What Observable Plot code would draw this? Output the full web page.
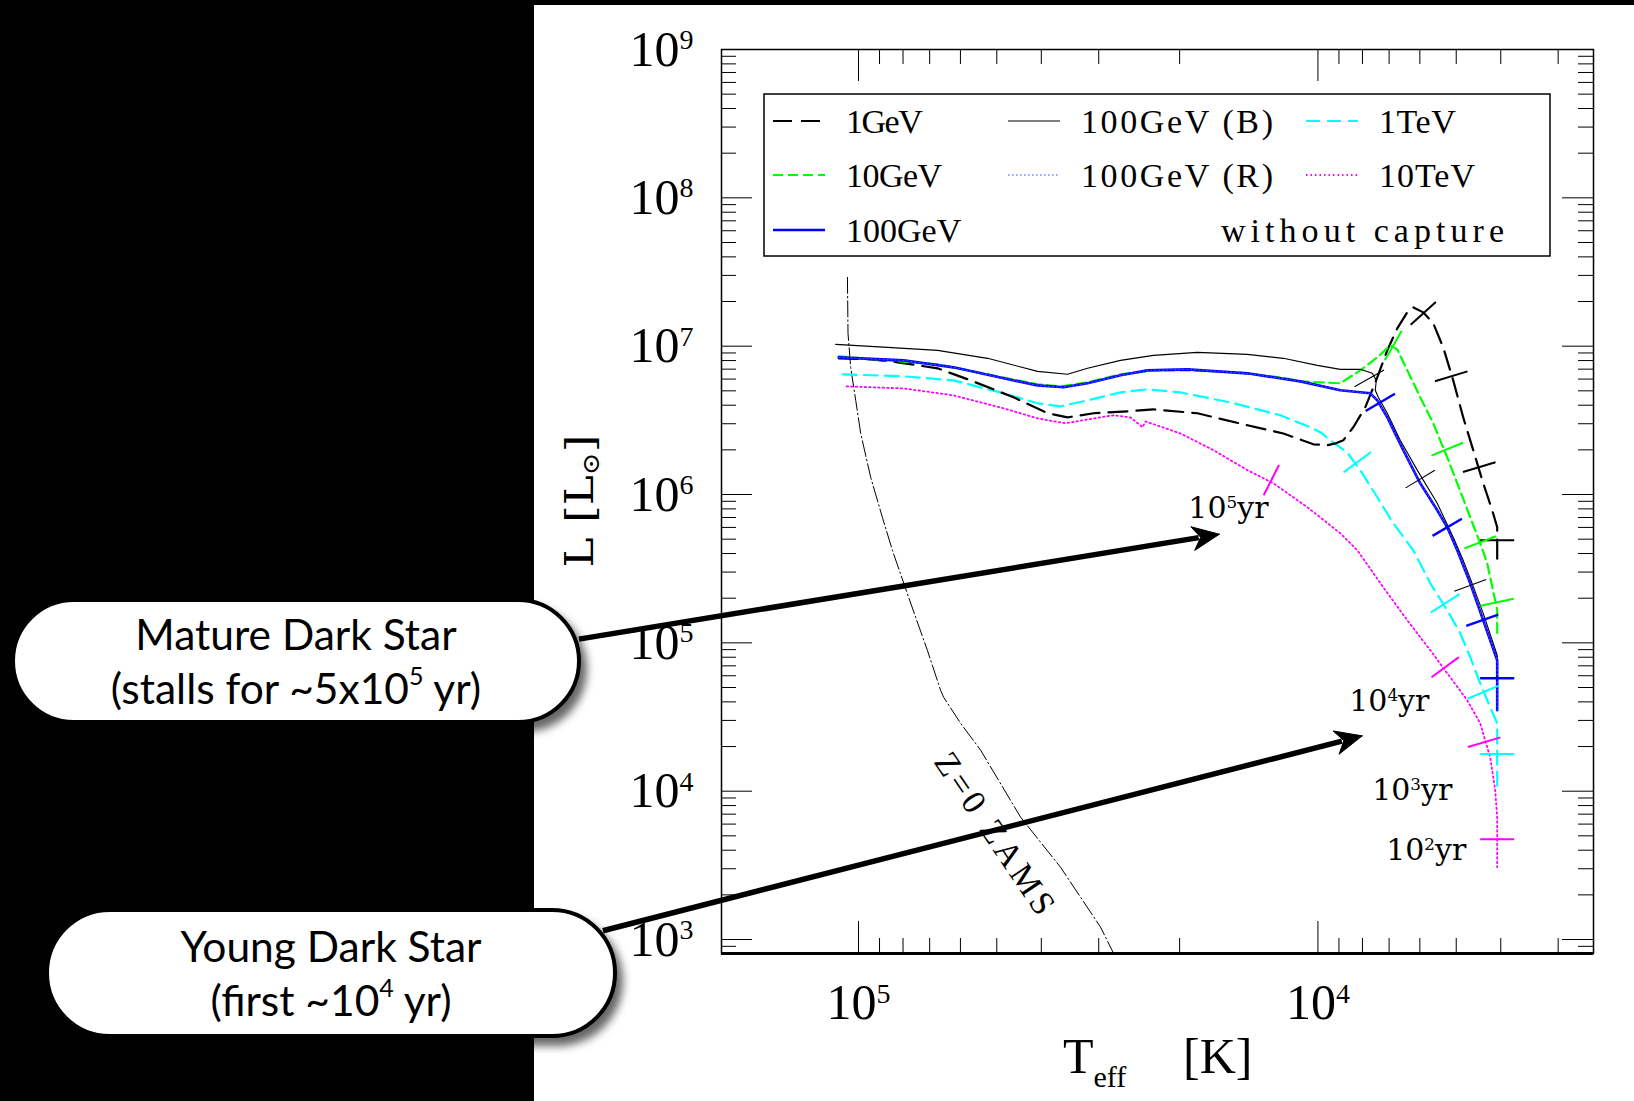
<!DOCTYPE html>
<html>
<head>
<meta charset="utf-8">
<script src="https://cdn.jsdelivr.net/npm/d3@7"></script>
<script src="https://cdn.jsdelivr.net/npm/@observablehq/plot@0.6"></script>
<style>
  html, body { margin:0; padding:0; background:#000; width:1634px; height:1101px; overflow:hidden; }
  #paper { position:absolute; left:534px; top:5px; width:1100px; height:1096px; background:#fff; }
  #chart { position:absolute; left:0; top:0; width:1634px; height:1101px; }
  .callout { position:absolute; box-sizing:border-box; background:#fff; border:4px solid #000;
     border-radius:66px; box-shadow:6px 8px 9px rgba(0,0,0,0.6);
     font-family:Lato,"Open Sans",sans-serif; font-size:42.5px; line-height:54px; color:#000;
     text-align:center; display:flex; flex-direction:column; justify-content:center; z-index:5; }
  .callout sup { font-size:25px; line-height:0; vertical-align:0.75em; }
</style>
</head>
<body>
<div id="paper"></div>
<div id="chart"></div>
<div class="callout" style="left:11px; top:598px; width:570px; height:126px;">
  <div>Mature Dark Star</div><div>(stalls for ~5x10<sup>5</sup> yr)</div>
</div>
<div class="callout" style="left:45px; top:908px; width:572px; height:130px;">
  <div>Young Dark Star</div><div>(first ~10<sup>4</sup> yr)</div>
</div>
<script>
// ---------------- DATA (T_eff [K], L [L_sun]) ----------------
const s1GeV = [[110400,8.28e6],[94070,8.15e6],[82170,7.78e6],[67270,7.09e6],[57020,5.88e6],[45960,4.52e6],[38760,3.53e6],[35080,3.31e6],[30790,3.53e6],[25970,3.64e6],[22800,3.75e6],[18290,3.53e6],[14240,2.93e6],[11890,2.58e6],[10230,2.18e6],[9540,2.15e6],[9167,2.21e6],[8807,2.32e6],[8376,2.84e6],[7887,3.87e6],[7427,6.16e6],[7064,9.37e6],[6719,1.318e7],[6391,1.69e7],[6202,1.826e7],[5899,1.69e7],[5610,1.424e7],[5337,9.81e6],[5076,5.88e6],[4828,3.31e6],[4592,1.99e6],[4367,1.19e6],[4175,7.83e5],[4072,6.01e5],[4072,3.33e5]];
const s10GeV = [[110400,8.54e6],[86390,8.02e6],[67270,7.54e6],[52360,6.46e6],[40750,5.53e6],[36340,5.36e6],[31730,5.70e6],[26900,6.46e6],[22800,6.87e6],[19230,6.87e6],[14970,6.66e6],[12070,6.16e6],[10920,5.79e6],[8940,5.62e6],[8088,6.87e6],[7427,8.40e6],[6959,1.012e7],[6719,9.51e6],[6391,6.87e6],[5988,4.52e6],[5610,3.02e6],[5231,1.78e6],[4975,1.19e6],[4661,7.02e5],[4434,4.69e5],[4281,3.44e5],[4217,2.77e5],[4072,1.66e5],[4072,1.09e5]];
const s100GeV = [[110400,8.40e6],[79740,8.02e6],[62090,7.20e6],[48320,6.07e6],[40750,5.44e6],[35800,5.28e6],[31730,5.62e6],[26900,6.36e6],[23500,6.87e6],[19230,6.98e6],[14240,6.56e6],[10920,5.79e6],[8940,5.04e6],[7692,4.81e6],[7427,4.31e6],[7064,3.31e6],[6520,1.99e6],[5988,1.19e6],[5499,7.83e5],[5231,6.01e5],[4975,4.21e5],[4661,2.52e5],[4367,1.42e5],[4072,7.63e4],[4072,3.51e4]];
const s100GeVB = [[112100,1.028e7],[86390,9.81e6],[67270,9.37e6],[52360,8.28e6],[40750,6.76e6],[35080,6.46e6],[31730,7.09e6],[26900,8.02e6],[22800,8.67e6],[18290,9.08e6],[14240,8.80e6],[11890,8.28e6],[10030,7.42e6],[8940,6.98e6],[8088,6.98e6],[7615,6.56e6],[7464,5.88e6],[7502,5.04e6],[7390,4.52e6],[7064,3.53e6],[6619,2.32e6],[6079,1.46e6],[5499,8.72e5],[5076,5.15e5],[4828,3.60e5],[4661,2.72e5],[4367,1.58e5],[4072,8.25e4],[4072,3.51e4]];
const s100GeVR = [[110400,8.40e6],[79740,8.02e6],[62090,7.20e6],[48320,6.07e6],[40750,5.44e6],[35800,5.28e6],[31730,5.62e6],[26900,6.36e6],[23500,6.87e6],[19230,6.98e6],[14240,6.56e6],[10920,5.79e6],[8940,5.04e6],[7692,4.81e6],[7427,4.31e6],[7064,3.31e6],[6520,1.99e6],[5988,1.19e6],[5499,7.83e5],[5231,6.01e5],[4975,4.21e5],[4661,2.52e5],[4367,1.42e5],[4072,7.63e4],[4072,3.51e4]];
const s1TeV = [[108200,6.46e6],[79740,6.26e6],[62090,5.88e6],[48320,4.81e6],[40750,4.12e6],[36340,3.93e6],[31730,4.31e6],[26900,4.88e6],[23500,5.12e6],[19920,4.88e6],[15510,4.18e6],[12070,3.42e6],[10390,2.84e6],[9880,2.63e6],[9399,2.32e6],[8632,1.92e6],[8088,1.46e6],[7427,9.58e5],[6855,6.39e5],[6202,4.21e5],[5695,2.52e5],[5231,1.66e5],[4901,1.16e5],[4661,8.00e4],[4434,5.34e4],[4217,3.68e4],[4072,2.87e4],[4072,1.06e4]];
const s10TeV = [[106100,5.36e6],[79740,5.19e6],[62090,4.66e6],[48320,3.81e6],[40750,3.26e6],[35430,3.02e6],[31730,3.21e6],[27860,3.42e6],[25590,3.31e6],[24090,2.84e6],[23730,3.11e6],[19920,2.58e6],[16880,1.99e6],[14240,1.46e6],[12500,1.19e6],[10540,8.20e5],[8940,5.48e5],[8210,4.21e5],[7207,2.37e5],[6391,1.42e5],[5695,8.92e4],[5153,5.86e4],[4732,4.10e4],[4434,2.87e4],[4217,1.69e4],[4113,1.016e4],[4072,6680],[4072,3075]];
const zams = [[105700,2.909e7],[105400,1.22e7],[104000,7.2e6],[101400,4.31e6],[98900,2.58e6],[94070,1.306e6],[88730,7.02e5],[84380,4.21e5],[79700,2.52e5],[75110,1.49e5],[70820,8.92e4],[66270,4.79e4],[65280,4.30e4],[59950,2.87e4],[54220,1.89e4],[44380,6680],[36340,3075],[29730,1212],[27840,806]];

// age markers (10^5, 10^4, 10^3, 10^2 yr) on each track
const age1GeV   = [[5899,1.663e7],[5127,6.26e6],[4456,1.53e6],[4072,4.91e5]];
const age10GeV  = [[6855,1.012e7],[5231,2.02e6],[4434,4.76e5],[4072,1.88e5]];
const age100GeV = [[7316,4.18e6],[5231,6.01e5],[4389,1.42e5],[4072,5.77e4]];
const age100GeVB= [[7731,6.07e6],[5988,1.27e6],[4661,2.44e5],[4072,5.77e4]];
const age1TeV   = [[8210,1.65e6],[5284,1.85e5],[4367,4.65e4],[4072,1.78e4]];
const age10TeV  = [[12630,1.25e6],[5284,6.85e4],[4346,2.14e4],[4072,4750]];

const ageLabelText = ["10^5yr","10^4yr","10^3yr","10^2yr"];
const ageLabelT = [15660, 6994, 6233, 5811];
const ageLabelL = [8.07e5, 4.04e4, 1.016e4, 4004];

const zamsLabel = "Z=0 ZAMS";
const zamsLabelT = 50300, zamsLabelL = 5052;

const calloutStartT = [406000, 360000];
const calloutStartL = [1.06e5, 1146];
const calloutTipT = [16385, 8008];
const calloutTipL = [5.4e5, 23600];

const xMajor = [1e5, 1e4];
const yMajor = [1e3, 1e4, 1e5, 1e6, 1e7, 1e8, 1e9];
const xDomain = [198700, 2513];
const yDomain = [805, 1e9];

// ---------------- STYLES ----------------
const series = [
  {name:"10TeV",      data:s10TeV,   ages:age10TeV,   stroke:"#ff00ff", width:1.8, dash:"1.5,3",  tickW:2},
  {name:"1TeV",       data:s1TeV,    ages:age1TeV,    stroke:"#00ffff", width:2.2, dash:"14,7",   tickW:2},
  {name:"1GeV",       data:s1GeV,    ages:age1GeV,    stroke:"#000000", width:2.2, dash:"19,9",   tickW:2},
  {name:"10GeV",      data:s10GeV,   ages:age10GeV,   stroke:"#00ff00", width:2.2, dash:"10,5",   tickW:2},
  {name:"100GeV (B)", data:s100GeVB, ages:age100GeVB, stroke:"#000000", width:1.1, dash:null,     tickW:1.1},
  {name:"100GeV",     data:s100GeV,  ages:age100GeV,  stroke:"#0000ff", width:2.6, dash:null,     tickW:2.4},
  {name:"100GeV (R)", data:s100GeVR, ages:null,       stroke:"#4040ff", width:1.2, dash:"1.5,2.5", tickW:1}
];
const byName = Object.fromEntries(series.map(s => [s.name, s]));

const W = 1634, H = 1101, mL = 721, mR = 41, mT = 49, mB = 148;
const frameW = W - mL - mR, frameH = H - mT - mB;
const sx = d3.scaleLog().domain(xDomain).range([mL, W - mR]);
const sy = d3.scaleLog().domain(yDomain).range([H - mB, mT]);

const xMinor = [1e3, 1e4, 1e5].flatMap(p => d3.range(2, 10).map(m => m * p)).filter(v => v < xDomain[0] && v > xDomain[1]);
const yMinor = d3.range(2, 9).flatMap(k => d3.range(2, 10).map(m => m * 10 ** k)).filter(v => v > yDomain[0] && v < yDomain[1]);

// perpendicular age ticks (screen-space perpendicular to the track)
function perpTicks(curve, marks, len) {
  const pts = curve.map(([t, l]) => [sx(t), sy(l)]);
  return marks.map(([t, l]) => {
    const px = sx(t), py = sy(l);
    let best = Infinity, dir = [0, 1];
    for (let i = 0; i < pts.length - 1; i++) {
      const [ax, ay] = pts[i], [bx, by] = pts[i + 1];
      const vx = bx - ax, vy = by - ay, L2 = vx * vx + vy * vy;
      if (!L2) continue;
      let u = ((px - ax) * vx + (py - ay) * vy) / L2; u = Math.max(0, Math.min(1, u));
      const qx = ax + u * vx - px, qy = ay + u * vy - py, d2 = qx * qx + qy * qy;
      if (d2 < best - 1e-9) { best = d2; const n = Math.sqrt(L2); dir = [vx / n, vy / n]; }
    }
    const nx = -dir[1], ny = dir[0], h = len / 2;
    return {x1: sx.invert(px - nx * h), y1: sy.invert(py - ny * h), x2: sx.invert(px + nx * h), y2: sy.invert(py + ny * h)};
  });
}

// callout arrows
const shafts = [], heads = [];
calloutStartT.forEach((_, i) => {
  const x0 = sx(calloutStartT[i]), y0 = sy(calloutStartL[i]);
  const x1 = sx(calloutTipT[i]), y1 = sy(calloutTipL[i]);
  const len = Math.hypot(x1 - x0, y1 - y0), ux = (x1 - x0) / len, uy = (y1 - y0) / len, nx = -uy, ny = ux;
  const HL = 27, HW = 12, back = 19;
  const pts = [[x1, y1], [x1 - HL * ux + HW * nx, y1 - HL * uy + HW * ny], [x1 - back * ux, y1 - back * uy], [x1 - HL * ux - HW * nx, y1 - HL * uy - HW * ny], [x1, y1]];
  pts.forEach(([px, py]) => heads.push({id: i, T: sx.invert(px), L: sy.invert(py)}));
  shafts.push({T1: calloutStartT[i], L1: calloutStartL[i], T2: sx.invert(x1 - (back + 2) * ux), L2: sy.invert(y1 - (back + 2) * uy)});
});

const pow = d => "10^" + Math.round(Math.log10(d));

const marks = [
  Plot.ruleX(xMinor, {insetTop: frameH - 15, strokeWidth: 1}),
  Plot.ruleX(xMinor, {insetBottom: frameH - 15, strokeWidth: 1}),
  Plot.ruleX(xMajor, {insetTop: frameH - 32, strokeWidth: 1}),
  Plot.ruleX(xMajor, {insetBottom: frameH - 32, strokeWidth: 1}),
  Plot.ruleY(yMinor, {insetRight: frameW - 15, strokeWidth: 1}),
  Plot.ruleY(yMinor, {insetLeft: frameW - 15, strokeWidth: 1}),
  Plot.ruleY(yMajor, {insetRight: frameW - 31, strokeWidth: 1}),
  Plot.ruleY(yMajor, {insetLeft: frameW - 31, strokeWidth: 1}),
  Plot.frame({stroke: "black", strokeWidth: 1.5}),
  Plot.ruleY([yDomain[0]], {stroke: "black", strokeWidth: 3}),
  Plot.axisY(yMajor, {anchor: "left", tickSize: 0, tickPadding: 28, tickFormat: pow, fontSize: 50, fontFamily: "Liberation Serif", label: null}),
  Plot.axisX(xMajor, {anchor: "bottom", tickSize: 0, tickPadding: 30, tickFormat: pow, fontSize: 50, fontFamily: "Liberation Serif", label: null}),
  Plot.line(zams, {x: d => d[0], y: d => d[1], stroke: "black", strokeWidth: 1, strokeDasharray: "16,3,1.5,3"}),
  ...series.map(s => Plot.line(s.data, {x: d => d[0], y: d => d[1], stroke: s.stroke, strokeWidth: s.width, strokeDasharray: s.dash || undefined})),
  ...series.filter(s => s.ages).map(s => Plot.link(perpTicks(s.data, s.ages, 34), {x1: "x1", y1: "y1", x2: "x2", y2: "y2", stroke: s.stroke, strokeWidth: s.tickW})),
  Plot.text(ageLabelText, {x: (d, i) => ageLabelT[i], y: (d, i) => ageLabelL[i], text: d => d, fontFamily: "DejaVu Serif", fontSize: 30, fill: "black"}),
  Plot.text([zamsLabel], {x: () => zamsLabelT, y: () => zamsLabelL, text: d => d, rotate: 56, fontFamily: "Liberation Serif", fontSize: 34, fill: "black"}),
  Plot.link(shafts, {x1: "T1", y1: "L1", x2: "T2", y2: "L2", stroke: "black", strokeWidth: 5.5}),
  Plot.line(heads, {x: "T", y: "L", z: "id", fill: "black", stroke: "black", strokeWidth: 1})
];

const chart = Plot.plot({
  width: W, height: H,
  marginLeft: mL, marginRight: mR, marginTop: mT, marginBottom: mB,
  x: {type: "log", domain: xDomain},
  y: {type: "log", domain: yDomain},
  style: {background: "transparent", color: "black", fontFamily: "Liberation Serif", overflow: "visible"},
  marks
});
document.getElementById("chart").appendChild(chart);

const svg = d3.select(chart);

// superscripts for "10^n" labels
svg.selectAll("text").each(function() {
  const s = this.textContent;
  const m = /^10\^(\d)(.*)$/.exec(s);
  if (!m) return;
  const fs = parseFloat(getComputedStyle(this).fontSize) || 30;
  const t = d3.select(this);
  t.text("10");
  t.append("tspan").attr("font-size", (0.56 * fs) + "px").attr("dy", (-0.33 * fs) + "px").text(m[1]);
  if (m[2]) t.append("tspan").attr("dy", (0.33 * fs) + "px").text(m[2]);
});
svg.selectAll("text").filter(function() { return this.textContent === zamsLabel; }).attr("letter-spacing", "4px");

// legend box
const lg = svg.append("g").attr("text-anchor", "start");
lg.append("rect").attr("x", 764).attr("y", 94).attr("width", 786).attr("height", 162)
  .attr("fill", "white").attr("stroke", "black").attr("stroke-width", 1.5);
const cols = [{lx: 773, tx: 846}, {lx: 1008, tx: 1081}, {lx: 1306, tx: 1379}];
const lineY = [121, 175, 230], textY = [133, 187, 242];
const legendLayout = [["1GeV", 0, 0], ["10GeV", 0, 1], ["100GeV", 0, 2], ["100GeV (B)", 1, 0], ["100GeV (R)", 1, 1], ["1TeV", 2, 0], ["10TeV", 2, 1]];
legendLayout.forEach(([name, c, r]) => {
  const s = byName[name];
  lg.append("line").attr("x1", cols[c].lx).attr("x2", cols[c].lx + 52).attr("y1", lineY[r]).attr("y2", lineY[r])
    .attr("stroke", s.stroke).attr("stroke-width", s.width).attr("stroke-dasharray", s.dash || null);
  lg.append("text").attr("x", cols[c].tx).attr("y", textY[r]).attr("text-anchor", "start").attr("font-family", "Liberation Serif").attr("font-size", 34)
    .attr("fill", "black").attr("textLength", name.length * 19.2).attr("lengthAdjust", "spacing").text(name);
});
lg.append("text").attr("x", 1221).attr("y", textY[2]).attr("text-anchor", "start").attr("font-family", "Liberation Serif").attr("font-size", 34)
  .attr("fill", "black").attr("textLength", 283).attr("lengthAdjust", "spacing").text("without capture");

// axis titles
const xt = svg.append("text").attr("x", 1063).attr("y", 1073).attr("text-anchor", "start").attr("font-family", "Liberation Serif").attr("font-size", 50).attr("fill", "black");
xt.append("tspan").text("T");
xt.append("tspan").attr("font-size", 30).attr("dy", 14).text("eff");
svg.append("text").attr("x", 1183).attr("y", 1073).attr("text-anchor", "start").attr("font-family", "Liberation Serif").attr("font-size", 50).attr("fill", "black").text("[K]");

const yt = svg.append("text").attr("transform", "translate(593,501) rotate(-90)").attr("text-anchor", "middle")
  .attr("font-family", "DejaVu Serif").attr("font-size", 40).attr("fill", "black")
  .attr("textLength", 133).attr("lengthAdjust", "spacingAndGlyphs");
yt.append("tspan").text("L [L");
yt.append("tspan").attr("font-size", 24).attr("dy", 6).text("⊙");
yt.append("tspan").attr("dy", -6).text("]");
</script>
</body>
</html>
